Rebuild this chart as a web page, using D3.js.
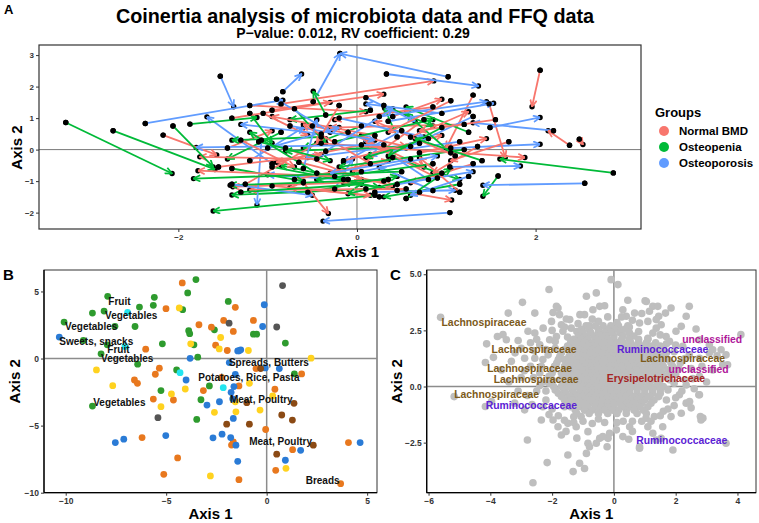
<!DOCTYPE html>
<html><head><meta charset="utf-8">
<script src="https://cdn.jsdelivr.net/npm/d3@7"></script>
<style>body{margin:0;background:#fff} text{font-family:"Liberation Sans",Arial,sans-serif}</style>
</head><body><svg id="c" width="759" height="523"></svg>
<script>
// ---------- Panel A data: coinertia arrows [x1,y1,x2,y2] (arrowhead at x2,y2) ----------
const normalArrows = [
[-2.17,0.46,-1.57,-0.17],[-0.45,-0.30,-1.76,-0.23],[-0.25,-0.85,-1.78,-0.67],[-0.85,1.45,0.86,2.18],
[-0.95,1.25,0.30,1.76],[2.05,2.52,1.96,1.36],[2.38,0.14,2.14,0.60],[2.49,0.33,2.53,0.16],
[0.45,-1.30,1.06,-1.60],[-0.40,0.20,1.88,-0.25],[1.48,1.45,1.66,-0.25],[1.30,1.73,1.00,0.05],
[-0.60,-1.05,-0.32,-2.03],[0.30,-1.00,-1.39,-1.18],[0.55,-1.25,-1.20,-1.28],[1.20,0.80,-0.30,0.70],
[1.10,-0.20,0.20,0.90],[0.85,1.35,-0.25,0.95],[-1.05,1.15,-0.55,0.45],[-1.30,0.30,-0.70,-0.55],
[-0.70,-0.95,0.35,-0.35],[0.60,0.40,1.25,1.20],[1.55,0.95,0.70,0.60],[-0.20,1.40,-0.45,0.20],
[0.15,-0.45,-0.60,0.80],[0.90,-0.90,0.10,0.25],[-1.45,0.05,-0.95,0.60],[1.70,0.25,1.05,-0.35],
[-0.10,0.55,0.75,-0.55],[0.40,1.05,0.95,1.60],[-0.80,0.05,0.05,-0.95],[1.30,-0.45,0.60,-1.05],
[-1.55,-0.55,-0.40,-0.15],[0.05,0.15,-0.90,-0.40],[0.70,-0.10,1.45,0.35],[-1.20,1.40,0.10,1.20],
[-0.95,-1.15,0.15,-1.45],[0.25,-1.50,-0.75,-1.20],[1.05,1.55,0.35,0.55],[-0.50,0.75,0.55,0.10],
[0.75,0.95,-0.05,-0.70],[-1.25,-1.10,-0.35,0.35],[1.35,0.10,0.85,-0.75],[-0.15,-0.35,0.95,0.45],
[0.20,0.45,-0.95,1.05],[-0.65,-0.40,0.40,-1.15],[1.15,-1.35,0.70,-0.25],[-1.40,1.00,-0.30,1.50]
];
const osteopeniaArrows = [
[-3.26,0.86,-2.07,-0.76],[-2.73,0.60,-1.59,-0.63],[-2.06,0.75,-1.61,-0.55],[-1.87,0.81,-1.12,1.02],
[0.20,-1.45,-1.61,-1.95],[0.50,-0.70,-1.83,-0.92],[0.35,-0.95,-1.42,-1.13],[0.10,-1.25,-1.40,-1.44],
[2.87,-0.74,1.60,-0.30],[1.58,-0.84,1.41,-1.48],[-0.35,1.10,-0.49,1.85],[-1.20,1.15,-0.95,0.20],
[-0.40,0.40,-1.40,0.30],[0.60,0.10,-0.80,-0.05],[0.45,0.40,0.31,1.31],[0.55,-1.55,1.05,-0.60],
[1.05,-0.10,0.55,1.15],[-0.70,1.30,-0.35,0.20],[1.20,0.00,-0.20,-0.55],[0.80,0.35,0.10,-0.25],
[-0.95,-0.55,0.25,-1.20],[-0.10,-0.95,-0.85,-0.50],[1.40,-0.35,0.65,0.35],[0.05,0.75,-0.60,0.05],
[0.70,-1.35,-0.15,-1.05],[-0.55,-1.35,0.45,-0.85],[0.95,0.70,0.35,-0.20],[-1.10,0.25,-0.30,-0.35],
[0.30,1.40,0.85,0.75],[1.15,-1.10,0.30,-1.50],
[-1.30,-1.35,0.05,-1.10],[0.85,-0.45,-0.45,-0.95],[-0.25,0.25,0.85,0.95],[-0.85,0.55,-1.45,-0.30],
[0.40,-0.25,1.15,-0.95],[1.25,0.55,0.55,1.35],[-0.45,-0.75,-1.20,0.55],[0.95,-0.75,-0.10,-1.40],
[-1.40,-0.60,-0.60,-1.00],[0.15,1.25,-0.75,0.95]
];
const osteoporosisArrows = [
[-2.37,0.83,-0.83,1.57],[-1.53,2.33,-1.38,1.36],[-0.83,1.84,-0.62,2.40],[-0.49,1.52,-0.19,3.05],
[1.02,2.31,-0.19,3.05],[0.33,2.40,1.36,2.02],[2.55,-1.07,1.41,-1.13],[1.04,-2.00,-0.38,-2.27],
[1.05,0.05,2.05,0.17],[1.49,0.70,2.05,1.02],[2.20,0.60,1.30,0.85],[1.04,-0.55,1.83,-0.52],
[0.35,0.90,1.53,1.47],[0.25,1.05,1.45,1.52],[0.20,-1.35,1.10,-1.29],[-1.07,0.30,-1.12,-1.76],
[-0.95,-0.45,-1.68,1.04],[0.30,0.15,-1.80,0.07],[-0.60,-0.60,-0.45,0.95],[0.60,-0.30,-0.30,-0.75],
[-0.20,1.00,0.75,0.40],[1.15,0.25,0.15,-0.15],[-1.20,-0.35,-0.60,0.70],[0.80,-0.95,0.05,0.45],
[-0.35,-0.05,0.40,1.30],[0.05,-0.70,0.90,-0.20],[-0.75,0.75,0.20,0.30],[0.50,0.60,-0.15,-0.40],
[0.95,1.15,0.10,1.45],[-0.25,-1.25,-0.05,-0.30],[1.25,-0.85,0.60,-1.45],
[-0.90,1.60,-0.30,0.55],[0.70,0.20,-0.55,-0.25],[-1.40,-1.10,-0.50,-1.45],[0.45,-1.10,1.30,-0.70],
[-0.40,0.50,-1.30,0.80],[1.30,1.05,0.55,0.05],[-0.15,-0.95,-1.00,-0.80],[0.10,1.65,0.65,0.90],
[-1.00,0.05,-0.20,0.70],[0.85,-1.30,0.25,-0.55]
];
const groupNames = ["Normal BMD","Osteopenia","Osteoporosis"];
const groupColors = ["#F8766D","#00BA38","#619CFF"];
const axisATicksX = [-2,0,2];
const axisATicksY = [-2,-1,0,1,2,3];

// ---------- Panel B data: FFQ variables ----------
const ffqGreen = [[-7.91,4.64],[-5.59,4.56],[-6.33,3.84],[-5.64,3.97],[-3.93,4.89],[-3.52,5.89],[-4.18,3.64],[-8.67,3.39],[-8.09,3.54],[-10.08,2.72],[-6.55,2.39],[-7.55,2.40],[-9.12,1.35],[-7.93,1.02],[-8.24,0.35],[-6.42,-0.42],[-5.19,1.10],[-5.26,-2.39],[-8.67,-3.54],[-3.48,-4.54],[-4.48,-0.85],[-3.27,-3.07],[-2.85,-2.04],[-3.43,0.10],[-3.62,1.02],[-3.88,2.07],[-3.83,1.85],[-2.60,2.14],[-1.91,4.26],[-0.66,1.82],[-0.50,1.82],[0.93,1.15],[1.38,-1.15]];
const ffqOrange = [[-4.20,5.64],[-5.01,3.72],[-6.02,0.70],[-6.58,-1.60],[-6.43,-1.85],[-5.34,-0.72],[-5.54,-1.17],[-5.64,-3.02],[-4.64,-3.09],[-6.20,-5.89],[-4.43,-7.41],[-5.12,-8.63],[-1.38,-9.03],[-3.15,-2.39],[-2.24,-1.40],[-1.38,-2.04],[-3.37,2.52],[-2.75,2.34],[-2.54,1.00],[-1.96,0.60],[-2.14,2.84],[-1.66,2.02],[-1.56,3.82],[-0.66,2.84],[-1.66,-6.21],[-1.75,-6.45],[-0.05,-5.29],[1.74,-1.15],[0.41,-2.29],[4.07,-6.26],[1.29,-6.79],[0.45,-8.33],[3.68,-9.33],[-0.53,-0.75]];
const ffqYellow = [[-4.35,3.77],[-8.47,-0.85],[-7.66,-2.02],[-5.26,-3.59],[-4.74,-2.64],[-2.80,-8.75],[-4.05,-2.27],[-2.60,-4.01],[-1.56,-3.22],[-0.86,-1.85],[-3.78,1.10],[-2.29,1.57],[-2.36,0.72],[-0.91,0.60],[2.21,0.03],[0.30,-2.79],[0.96,-8.18],[-0.33,-3.84],[-1.53,-3.97]];
const ffqBlue = [[-10.32,1.60],[-7.53,-6.26],[-7.11,-6.01],[-5.02,-5.74],[-1.44,-7.66],[-4.01,-1.60],[-2.97,-3.47],[-2.35,-3.22],[-1.77,-2.52],[-1.63,-2.09],[-3.81,0.02],[-1.44,0.57],[-1.29,0.65],[-1.37,0.58],[-0.20,2.39],[-0.12,4.01],[-1.79,-5.89],[-2.67,-5.91],[-2.22,-5.64],[-1.53,-6.46],[-1.66,-4.46],[0.63,-0.75],[-0.07,-0.70],[4.65,-6.26],[1.69,-6.84],[0.93,-7.58],[-1.86,-0.30],[-1.56,-1.19],[-1.69,-3.00]];
const ffqBrown = [[-1.99,-4.89],[-0.86,-4.89],[-0.99,-3.29],[-0.30,-0.75],[1.36,-3.34],[0.75,-4.21],[1.28,-4.59],[2.32,-6.46],[0.50,-7.13]];
const ffqGrey = [[-5.41,-4.41],[-1.87,2.64],[0.79,5.44],[0.50,2.35]];
const ffqCyan = [[-6.92,3.44],[-7.05,0.90],[-4.31,-1.05],[-2.16,-2.17]];
const ffqColors = ["#2E9B2E","#E8781E","#FFD21F","#2A7BD6","#8B4A14","#555555","#22E5F0"];
const ffqLabelText = ["Fruit","Vegetables","Vegetables","Sweets, snacks","Fruit","Vegetables","Vegetables","Spreads, Butters","Potatoes, Rice, Pasta","Meat, Poultry","Meat, Poultry","Breads"];
const ffqLabelX = [-7.88,-8.04,-10.03,-10.32,-7.93,-8.24,-8.63,-1.88,-3.40,-1.83,-0.87,1.94];
const ffqLabelY = [4.27,3.22,2.40,1.30,0.66,0.03,-3.29,-0.30,-1.44,-3.04,-6.21,-9.08];
const axisBTicksX = [-10,-5,0,5];
const axisBTicksY = [-10,-5,0,5];

// ---------- Panel C data: microbiota OTUs ----------
const otuOuter = [[-5.61,3.08],[-2.10,4.32],[-2.96,3.75],[-3.42,3.27],[-2.56,3.27],[-1.97,3.30],[-1.81,3.50],[-1.76,3.20],[-2.02,2.90],[-1.70,2.75],[-1.43,2.98],[-1.16,2.80],[-1.38,2.60],[-1.65,2.46],[-2.29,2.60],[-2.56,2.38],[-2.78,2.46],[-3.10,2.05],[-3.48,2.08],[-3.59,2.31],[-3.77,2.23],[-4.12,1.90],[-2.08,2.08],[-1.86,2.23],[-2.40,1.86],[-4.16,1.07],[-3.32,1.12],[-3.64,0.74],[-2.89,1.26],[-2.56,1.26],[-2.13,1.41],[-2.35,0.90],[-1.92,0.90],[-1.60,1.19],[-5.17,-0.45],[-4.16,-0.89],[-3.96,-0.67],[-3.21,-0.74],[-2.89,-1.04],[-2.35,-1.49],[-1.97,-1.49],[-1.81,-1.79],[-1.70,-2.16],[-2.80,-2.38],[-2.16,-3.39],[-2.62,-4.29],[-1.49,-3.05],[-1.32,-3.79],[-1.11,-3.42],[-0.95,-3.65],[-1.22,-1.79],[-0.84,-2.01],[-0.84,-2.53],[-0.89,-2.98],[-1.49,-1.64],[-1.06,-1.34],[-0.22,-2.68],[-0.19,-2.31],[-0.46,-2.31],[0.48,-2.35],[0.83,-2.68],[1.53,-2.31],[1.91,-2.83],[2.80,-1.34],[2.82,-1.49],[2.75,-0.37],[3.63,-2.53],[4.11,2.31],[3.34,1.37],[3.68,0.97],[2.44,3.57],[2.34,3.13],[1.85,3.50],[1.01,3.82],[0.45,3.84],[0.13,4.54],[-0.09,4.76],[-0.57,4.17],[-0.46,3.57],[-0.68,3.42],[-0.89,4.02],[-1.54,3.01],[-1.86,3.57],[1.26,3.57],[1.45,3.13],[1.37,2.98],[2.18,2.68],[2.66,2.56],[3.09,1.86],[3.20,1.64],[2.77,2.08],[0.29,3.42],[0.40,3.13],[0.67,3.27],[1.05,3.79],[1.15,3.35],[1.42,3.57],[1.67,3.27],[0.83,2.83],[1.10,2.90],[1.37,2.60],[1.53,2.75],[1.26,2.38],[1.69,2.23],[2.01,2.46],[1.80,2.01],[2.23,1.79],[2.44,1.41],[2.77,1.26],[3.09,1.49],[3.47,1.64],[3.63,1.41],[3.52,0.97],[3.20,0.74],[2.77,0.45],[2.34,0.07],[2.12,-0.37],[2.77,-0.37],[2.34,-0.74],[2.45,-0.67],[2.88,-1.41],[2.18,-1.19],[1.85,-1.34],[1.58,-1.79],[1.10,-1.79],[1.31,-1.34],[1.04,-1.41],[1.26,-2.08],[0.83,-2.75],[1.37,-2.38],[0.51,-1.79],[0.08,-1.93],[-0.14,-2.08],[-0.36,-2.23],[-0.57,-2.53],[-0.79,-2.68],[0.29,-2.23],[-2.60,0.40],[-2.30,0.20],[-2.50,-0.20],[-2.20,-0.60],[-2.00,-1.00],[-1.80,-1.30],[-2.70,0.90],[-3.00,0.40],[-2.80,-0.40],[-3.40,0.20],[-1.50,2.20],[-1.20,2.45],[-0.80,2.70],[-0.50,2.90],[-0.20,3.10],[0.10,2.85],[0.50,2.65],[0.80,2.45],[1.10,2.15],[1.95,1.55],[2.15,1.05],[2.50,0.80],[2.00,0.55],[2.20,-0.20],[1.95,-0.85],[1.60,-1.10],[2.50,-0.95],[0.90,-1.55],[0.30,-1.55],[-0.30,-1.60],[-0.70,-1.65],[-1.30,-1.35],[-1.60,-0.90],[-2.40,0.60],[-0.95,3.20],[-0.30,3.60],[0.90,3.25],[3.00,0.20],[2.60,-0.10],[1.70,1.90],[-1.90,1.70],[-2.60,1.60],[-3.00,1.70],[-3.90,1.30],
[-2.30,1.20],[-2.20,1.65],[-1.90,2.00],[-2.50,2.10],[-2.00,2.50],[-1.60,2.65],[-2.20,-0.20],[-2.40,0.05],[-2.30,-0.90],[-2.10,-1.25],[-1.60,-1.50],[-1.30,-1.60],[-1.00,-1.55],[-0.50,-1.45],[0.10,-1.60],[0.60,-1.55],[1.20,-1.55],[1.50,-1.30],[1.75,-1.00],[2.00,-0.50],[2.30,0.30],[2.10,0.80],[2.30,1.25],[2.00,1.85],[1.50,2.30],[0.60,2.95],[0.25,3.10],[-0.70,3.00],[-1.10,3.20],[-2.70,1.95],[-3.20,1.50],[-2.90,0.70],[-3.10,-0.20],[-2.65,-0.80],[-1.55,-2.00],[-1.20,-2.30],[0.60,-2.00],[1.70,-0.60],[2.55,0.35],[2.85,0.90]];
// dense core, read row by row (y level, x positions)
const otuCoreY = [2.7,2.55,2.4,2.25,2.1,1.95,1.8,1.65,1.5,1.35,1.2,1.05,0.9,0.75,0.6,0.45,0.3,0.15,0.0,-0.15,-0.3,-0.45,-0.6,-0.75,-0.9,-1.05,-1.2];
const otuCoreX = [
[-0.9,-0.6,-0.35,-0.1,0.15,0.45],
[-1.05,-0.8,-0.5,-0.2,0.05,0.35],
[-1.0,-0.75,-0.5,-0.3,-0.1,0.2,0.5],
[-1.15,-0.9,-0.65,-0.45,-0.25,0.0,0.3,0.65],
[-1.3,-1.05,-0.85,-0.6,-0.4,-0.2,0.0,0.25,0.5,0.8,1.1],
[-1.4,-1.15,-0.95,-0.7,-0.5,-0.3,-0.1,0.1,0.3,0.55,0.8,1.05,1.35],
[-1.5,-1.25,-1.0,-0.8,-0.6,-0.4,-0.2,0.0,0.2,0.4,0.65,0.9,1.2,1.5],
[-1.6,-1.35,-1.1,-0.9,-0.7,-0.5,-0.3,-0.1,0.1,0.3,0.55,0.8,1.05,1.3,1.6],
[-1.7,-1.4,-1.15,-0.95,-0.75,-0.55,-0.35,-0.15,0.05,0.25,0.45,0.65,0.9,1.15,1.4,1.7],
[-1.75,-1.45,-1.2,-1.0,-0.8,-0.6,-0.4,-0.2,0.0,0.2,0.4,0.6,0.8,1.05,1.3,1.6],
[-1.8,-1.55,-1.3,-1.1,-0.9,-0.7,-0.5,-0.3,-0.1,0.1,0.3,0.5,0.7,0.95,1.2,1.45,1.75],
[-1.85,-1.45,-1.2,-1.0,-0.8,-0.6,-0.4,-0.2,0.0,0.2,0.4,0.6,0.8,1.05,1.3,1.55,1.85],
[-1.9,-1.6,-1.35,-1.15,-0.95,-0.75,-0.55,-0.35,-0.15,0.05,0.25,0.45,0.65,0.85,1.1,1.35,1.6,1.9],
[-1.95,-1.55,-1.3,-1.1,-0.9,-0.7,-0.5,-0.3,-0.1,0.1,0.3,0.5,0.7,0.95,1.2,1.45,1.75],
[-2.0,-1.7,-1.45,-1.2,-1.0,-0.8,-0.6,-0.4,-0.2,0.0,0.2,0.4,0.6,0.8,1.05,1.3,1.55,1.85],
[-2.1,-1.6,-1.35,-1.15,-0.95,-0.75,-0.55,-0.35,-0.15,0.05,0.25,0.45,0.65,0.9,1.15,1.4,1.7],
[-2.0,-1.75,-1.5,-1.25,-1.05,-0.85,-0.65,-0.45,-0.25,-0.05,0.15,0.35,0.55,0.75,1.0,1.25,1.5,1.8],
[-2.1,-1.6,-1.35,-1.15,-0.95,-0.75,-0.55,-0.35,-0.15,0.05,0.25,0.45,0.65,0.9,1.15,1.45,1.95],
[-1.95,-1.7,-1.45,-1.2,-1.0,-0.8,-0.6,-0.4,-0.2,0.0,0.2,0.4,0.6,0.85,1.1,1.35,1.6],
[-1.9,-1.6,-1.35,-1.1,-0.9,-0.7,-0.5,-0.3,-0.1,0.1,0.3,0.5,0.75,1.0,1.25,1.5,1.75],
[-1.8,-1.55,-1.3,-1.1,-0.9,-0.7,-0.5,-0.3,-0.1,0.1,0.3,0.5,0.75,1.0,1.25,1.5],
[-1.7,-1.45,-1.2,-1.0,-0.8,-0.6,-0.4,-0.2,0.0,0.2,0.4,0.65,0.9,1.15,1.45],
[-1.6,-1.35,-1.15,-0.95,-0.75,-0.55,-0.35,-0.15,0.05,0.25,0.5,0.75,1.0,1.3],
[-1.5,-1.25,-1.0,-0.8,-0.6,-0.4,-0.2,0.0,0.2,0.4,0.65,0.9,1.2],
[-1.4,-1.1,-0.85,-0.6,-0.4,-0.2,0.0,0.25,0.5,0.8,1.1],
[-1.25,-0.95,-0.7,-0.45,-0.3,-0.05,0.15,0.4,0.65,0.95],
[-1.2,-0.8,-0.5,-0.2,0.1,0.4,0.75,1.05]
];
const otuLabelText = ["Lachnospiraceae","Lachnospiraceae","Lachnospiraceae","Lachnospiraceae","Lachnospiraceae","Ruminococcaceae","unclassified","Ruminococcaceae","Lachnospiraceae","unclassified","Erysipelotrichaceae","Ruminococcaceae"];
const otuLabelX = [-5.58,-3.96,-4.10,-3.89,-5.17,-4.15,2.21,0.10,0.85,1.77,-0.23,0.72];
const otuLabelY = [2.86,1.67,0.82,0.30,-0.37,-0.82,2.08,1.64,1.24,0.78,0.38,-2.42];
const familyColors = {"Lachnospiraceae":"#7C5A1A","Ruminococcaceae":"#5B22D4","unclassified":"#B0179A","Erysipelotrichaceae":"#A52424"};
const axisCTicksX = [-6,-4,-2,0,2,4];
const axisCTicksY = [-2.5,0,2.5,5];

// ---------- drawing ----------
const svg = d3.select("#c");
const F = '"Liberation Sans",Arial,sans-serif';

function styleAxis(g, size){
  g.select(".domain").remove();
  g.selectAll(".tick line").attr("stroke","#333").attr("stroke-width",1);
  g.selectAll(".tick text").attr("font-size",size).attr("font-weight","bold").attr("fill","#333").attr("font-family",F);
}

// Titles
svg.append("text").attr("x",355).attr("y",23).attr("text-anchor","middle").attr("font-size",19.8).attr("font-weight","bold").text("Coinertia analysis of microbiota data and FFQ data");
svg.append("text").attr("x",353).attr("y",38).attr("text-anchor","middle").attr("font-size",14).attr("font-weight","bold").text("P\u2212value: 0.012, RV coefficient: 0.29");
svg.append("text").attr("x",4).attr("y",14).attr("font-size",13).attr("font-weight","bold").text("A");
svg.append("text").attr("x",3).attr("y",280).attr("font-size",15).attr("font-weight","bold").text("B");
svg.append("text").attr("x",390).attr("y",280).attr("font-size",15).attr("font-weight","bold").text("C");

// ----- Panel A -----
const xA = d3.scaleLinear().domain([-3.56,3.18]).range([39,641]);
const yA = d3.scaleLinear().domain([-2.52,3.32]).range([229,45]);
const gA = svg.append("g");
gA.append("line").attr("x1",xA.range()[0]).attr("x2",xA.range()[1]).attr("y1",yA(0)).attr("y2",yA(0)).attr("stroke","#555").attr("stroke-width",0.8);
gA.append("line").attr("y1",yA.range()[0]).attr("y2",yA.range()[1]).attr("x1",xA(0)).attr("x2",xA(0)).attr("stroke","#555").attr("stroke-width",0.8);
const defs = svg.append("defs");
groupColors.forEach((c,i)=>{
  defs.append("marker").attr("id","arr"+i).attr("viewBox","0 0 10 10").attr("refX",9.5).attr("refY",5)
    .attr("markerWidth",8).attr("markerHeight",8).attr("markerUnits","userSpaceOnUse").attr("orient","auto")
    .append("path").attr("d","M1,1 L9.5,5 L1,9").attr("fill","none").attr("stroke",c).attr("stroke-width",2.2);
});
const arrowSets = [normalArrows, osteopeniaArrows, osteoporosisArrows];
const allA = [];
arrowSets.forEach((s,i)=> s.forEach(a=> allA.push({a, i})));
// interleave drawing order
allA.sort((p,q)=> ((Math.abs(p.a[0]*37+p.a[1]*11))%1) - ((Math.abs(q.a[0]*37+q.a[1]*11))%1));
const dotsA = [];
allA.forEach(d=>{ dotsA.push([d.a[0],d.a[1]]); dotsA.push([d.a[2],d.a[3]]); });
gA.append("g").selectAll("circle").data(dotsA).join("circle")
  .attr("cx",d=>xA(d[0])).attr("cy",d=>yA(d[1])).attr("r",2.7).attr("fill","#000");
gA.append("g").selectAll("line").data(allA).join("line")
  .attr("x1",d=>xA(d.a[0])).attr("y1",d=>yA(d.a[1])).attr("x2",d=>xA(d.a[2])).attr("y2",d=>yA(d.a[3]))
  .attr("stroke",d=>groupColors[d.i]).attr("stroke-width",1.8).attr("marker-end",d=>`url(#arr${d.i})`);
gA.append("g").selectAll("circle").data(allA).join("circle")
  .attr("cx",d=>xA(d.a[0])).attr("cy",d=>yA(d.a[1])).attr("r",2.7).attr("fill","#000");
gA.append("rect").attr("x",xA.range()[0]).attr("y",yA.range()[1]).attr("width",xA.range()[1]-xA.range()[0]).attr("height",yA.range()[0]-yA.range()[1]).attr("fill","none").attr("stroke","#333").attr("stroke-width",1.2);
styleAxis(gA.append("g").attr("transform",`translate(0,${yA.range()[0]})`).call(d3.axisBottom(xA).tickValues(axisATicksX).tickSize(3).tickPadding(2).tickFormat(d3.format("d"))),8);
styleAxis(gA.append("g").attr("transform",`translate(${xA.range()[0]},0)`).call(d3.axisLeft(yA).tickValues(axisATicksY).tickSize(3).tickPadding(2).tickFormat(d3.format("d"))),8);
gA.append("text").attr("x",xA(0)).attr("y",257).attr("text-anchor","middle").attr("font-size",15).attr("font-weight","bold").text("Axis 1");
gA.append("text").attr("transform",`translate(22,${yA(0)-2}) rotate(-90)`).attr("text-anchor","middle").attr("font-size",15).attr("font-weight","bold").text("Axis 2");
// legend
const lg = svg.append("g");
lg.append("text").attr("x",655).attr("y",117).attr("font-size",13).attr("font-weight","bold").text("Groups");
groupNames.forEach((n,i)=>{
  lg.append("circle").attr("cx",664).attr("cy",131+i*16).attr("r",5).attr("fill",groupColors[i]);
  lg.append("text").attr("x",679).attr("y",131+i*16).attr("dy","0.35em").attr("font-size",11.5).attr("font-weight","bold").text(n);
});

// ----- Panel B -----
const xB = d3.scaleLinear().domain([-11.08,5.49]).range([44,377]);
const yB = d3.scaleLinear().domain([-10.0,6.6]).range([492.7,270]);
const gB = svg.append("g");
gB.append("rect").attr("x",xB.range()[0]).attr("y",yB.range()[1]).attr("width",xB.range()[1]-xB.range()[0]).attr("height",yB.range()[0]-yB.range()[1]).attr("fill","none").attr("stroke","#333").attr("stroke-width",1);
gB.append("line").attr("x1",xB.range()[0]).attr("x2",xB.range()[1]).attr("y1",yB(0)).attr("y2",yB(0)).attr("stroke","#8c8c8c").attr("stroke-width",1.5);
gB.append("line").attr("y1",yB.range()[0]).attr("y2",yB.range()[1]).attr("x1",xB(0)).attr("x2",xB(0)).attr("stroke","#8c8c8c").attr("stroke-width",1.5);
[ffqGreen,ffqOrange,ffqYellow,ffqBlue,ffqBrown,ffqGrey,ffqCyan].forEach((pts,i)=>{
  gB.append("g").selectAll("circle").data(pts).join("circle")
    .attr("cx",d=>xB(d[0])).attr("cy",d=>yB(d[1])).attr("r",3.4).attr("fill",ffqColors[i]);
});
gB.append("g").selectAll("text").data(ffqLabelText).join("text")
  .attr("x",(d,i)=>xB(ffqLabelX[i])).attr("y",(d,i)=>yB(ffqLabelY[i])).attr("dy","0.35em")
  .attr("font-size",10).attr("font-weight","bold").attr("fill","#111").text(d=>d);
gB.append("line").attr("x1",xB.range()[0]).attr("x2",xB.range()[0]).attr("y1",yB.range()[0]).attr("y2",yB.range()[1]).attr("stroke","#000").attr("stroke-width",1.3);
gB.append("line").attr("x1",xB.range()[0]).attr("x2",xB.range()[1]).attr("y1",yB.range()[0]).attr("y2",yB.range()[0]).attr("stroke","#000").attr("stroke-width",1.3);
styleAxis(gB.append("g").attr("transform",`translate(0,${yB.range()[0]})`).call(d3.axisBottom(xB).tickValues(axisBTicksX).tickSize(3).tickPadding(2).tickFormat(d3.format("d"))),8.5);
styleAxis(gB.append("g").attr("transform",`translate(${xB.range()[0]},0)`).call(d3.axisLeft(yB).tickValues(axisBTicksY).tickSize(3).tickPadding(2).tickFormat(d3.format("d"))),8.5);
gB.append("text").attr("x",(xB.range()[0]+xB.range()[1])/2).attr("y",519).attr("text-anchor","middle").attr("font-size",15).attr("font-weight","bold").text("Axis 1");
gB.append("text").attr("transform",`translate(20,${(yB.range()[0]+yB.range()[1])/2}) rotate(-90)`).attr("text-anchor","middle").attr("font-size",15).attr("font-weight","bold").text("Axis 2");

// ----- Panel C -----
const xC = d3.scaleLinear().domain([-6.06,4.6]).range([426.7,756]);
const yC = d3.scaleLinear().domain([-4.73,5.19]).range([492.7,270]);
const gC = svg.append("g");
gC.append("rect").attr("x",xC.range()[0]).attr("y",yC.range()[1]).attr("width",xC.range()[1]-xC.range()[0]).attr("height",yC.range()[0]-yC.range()[1]).attr("fill","none").attr("stroke","#333").attr("stroke-width",1);
gC.append("line").attr("x1",xC.range()[0]).attr("x2",xC.range()[1]).attr("y1",yC(0)).attr("y2",yC(0)).attr("stroke","#8c8c8c").attr("stroke-width",1.5);
gC.append("line").attr("y1",yC.range()[0]).attr("y2",yC.range()[1]).attr("x1",xC(0)).attr("x2",xC(0)).attr("stroke","#8c8c8c").attr("stroke-width",1.5);
const otuCore = [];
otuCoreY.forEach((y,i)=> otuCoreX[i].forEach(x=> otuCore.push([x,y])));
gC.append("g").selectAll("circle").data(otuOuter.concat(otuCore)).join("circle")
  .attr("cx",d=>xC(d[0])).attr("cy",d=>yC(d[1])).attr("r",3.8).attr("fill","#BEBEBE");
gC.append("g").selectAll("text").data(otuLabelText).join("text")
  .attr("x",(d,i)=>xC(otuLabelX[i])).attr("y",(d,i)=>yC(otuLabelY[i])).attr("dy","0.35em")
  .attr("font-size",10.4).attr("font-weight","bold").attr("fill",d=>familyColors[d]).text(d=>d);
gC.append("line").attr("x1",xC.range()[0]).attr("x2",xC.range()[0]).attr("y1",yC.range()[0]).attr("y2",yC.range()[1]).attr("stroke","#000").attr("stroke-width",1.3);
gC.append("line").attr("x1",xC.range()[0]).attr("x2",xC.range()[1]).attr("y1",yC.range()[0]).attr("y2",yC.range()[0]).attr("stroke","#000").attr("stroke-width",1.3);
styleAxis(gC.append("g").attr("transform",`translate(0,${yC.range()[0]})`).call(d3.axisBottom(xC).tickValues(axisCTicksX).tickSize(3).tickPadding(2).tickFormat(d3.format("d"))),8.5);
styleAxis(gC.append("g").attr("transform",`translate(${xC.range()[0]},0)`).call(d3.axisLeft(yC).tickValues(axisCTicksY).tickSize(3).tickPadding(2).tickFormat(d3.format(".1f"))),8.5);
gC.append("text").attr("x",(xC.range()[0]+xC.range()[1])/2).attr("y",519).attr("text-anchor","middle").attr("font-size",15).attr("font-weight","bold").text("Axis 1");
gC.append("text").attr("transform",`translate(402,${(yC.range()[0]+yC.range()[1])/2}) rotate(-90)`).attr("text-anchor","middle").attr("font-size",15).attr("font-weight","bold").text("Axis 2");
</script></body></html>
